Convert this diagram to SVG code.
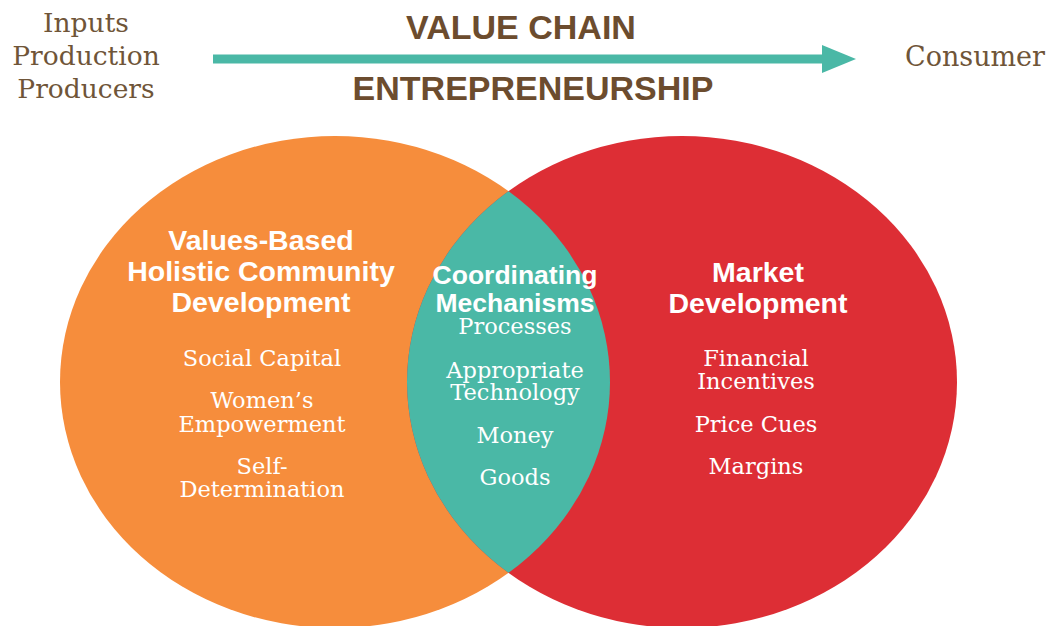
<svg xmlns="http://www.w3.org/2000/svg" width="1049" height="626" viewBox="0 0 1049 626">
<style>
.hdr{font-family:"Liberation Sans",Arial,sans-serif;font-weight:bold;font-size:34px;fill:#6C4C2E;text-anchor:middle}
.side{font-family:"DejaVu Serif","Liberation Serif",serif;font-size:26.5px;fill:#6F5538;text-anchor:middle}
.ttl{font-family:"Liberation Sans",Arial,sans-serif;font-weight:bold;font-size:28.5px;fill:#FFFFFF;text-anchor:middle}
.ttlm{font-family:"Liberation Sans",Arial,sans-serif;font-weight:bold;font-size:26.5px;fill:#FFFFFF;text-anchor:middle}
.itm{font-family:"DejaVu Serif","Liberation Serif",serif;font-size:22.5px;fill:#FFFFFF;text-anchor:middle}
</style>
<defs>
<marker id="ah" markerUnits="userSpaceOnUse" markerWidth="36" markerHeight="30" refX="2" refY="14" orient="auto">
<path d="M0,0 L34,14 L0,28 Z" fill="#4AB8A6"/>
</marker>
<clipPath id="clipOrange"><ellipse cx="335" cy="382" rx="275" ry="246"/></clipPath>
</defs>
<rect width="1049" height="626" fill="#FFFFFF"/>

<g id="inputs">
<text class="side" x="86" y="32">Inputs</text>
<text class="side" x="86" y="65">Production</text>
<text class="side" x="86" y="98">Producers</text>
</g>
<g id="consumer">
<text class="side" x="975" y="66" style="font-size:27px">Consumer</text>
</g>
<g id="value-chain">
<text class="hdr" x="521" y="39">VALUE CHAIN</text>
</g>
<g id="entrepreneurship">
<text class="hdr" x="533" y="100">ENTREPRENEURSHIP</text>
</g>

<g id="connectors">
<line x1="213" y1="59" x2="824" y2="59" stroke="#4AB8A6" stroke-width="9" marker-end="url(#ah)"/>
</g>

<g id="community-development">
<ellipse cx="335" cy="382" rx="275" ry="246" fill="#F68D3C"/>
</g>
<g id="market-development">
<ellipse cx="682" cy="382" rx="275" ry="246" fill="#DD2E35"/>
</g>
<g id="coordinating-mechanisms">
<ellipse cx="682" cy="382" rx="275" ry="246" fill="#4AB8A6" clip-path="url(#clipOrange)"/>
</g>

<g id="community-development-text">
<text class="ttl" x="261" y="250">Values-Based</text>
<text class="ttl" x="261" y="281">Holistic Community</text>
<text class="ttl" x="261" y="312">Development</text>
<text class="itm" x="262" y="366">Social Capital</text>
<text class="itm" x="262" y="408">Women’s</text>
<text class="itm" x="262" y="432">Empowerment</text>
<text class="itm" x="262" y="474">Self-</text>
<text class="itm" x="262" y="497">Determination</text>
</g>
<g id="coordinating-mechanisms-text">
<text class="ttlm" x="515" y="284">Coordinating</text>
<text class="ttlm" x="515" y="312">Mechanisms</text>
<text class="itm" x="515" y="334">Processes</text>
<text class="itm" x="515" y="378">Appropriate</text>
<text class="itm" x="515" y="400">Technology</text>
<text class="itm" x="515" y="443">Money</text>
<text class="itm" x="515" y="485">Goods</text>
</g>
<g id="market-development-text">
<text class="ttl" x="758" y="282">Market</text>
<text class="ttl" x="758" y="313">Development</text>
<text class="itm" x="756" y="366">Financial</text>
<text class="itm" x="756" y="389">Incentives</text>
<text class="itm" x="756" y="432">Price Cues</text>
<text class="itm" x="756" y="474">Margins</text>
</g>
</svg>
